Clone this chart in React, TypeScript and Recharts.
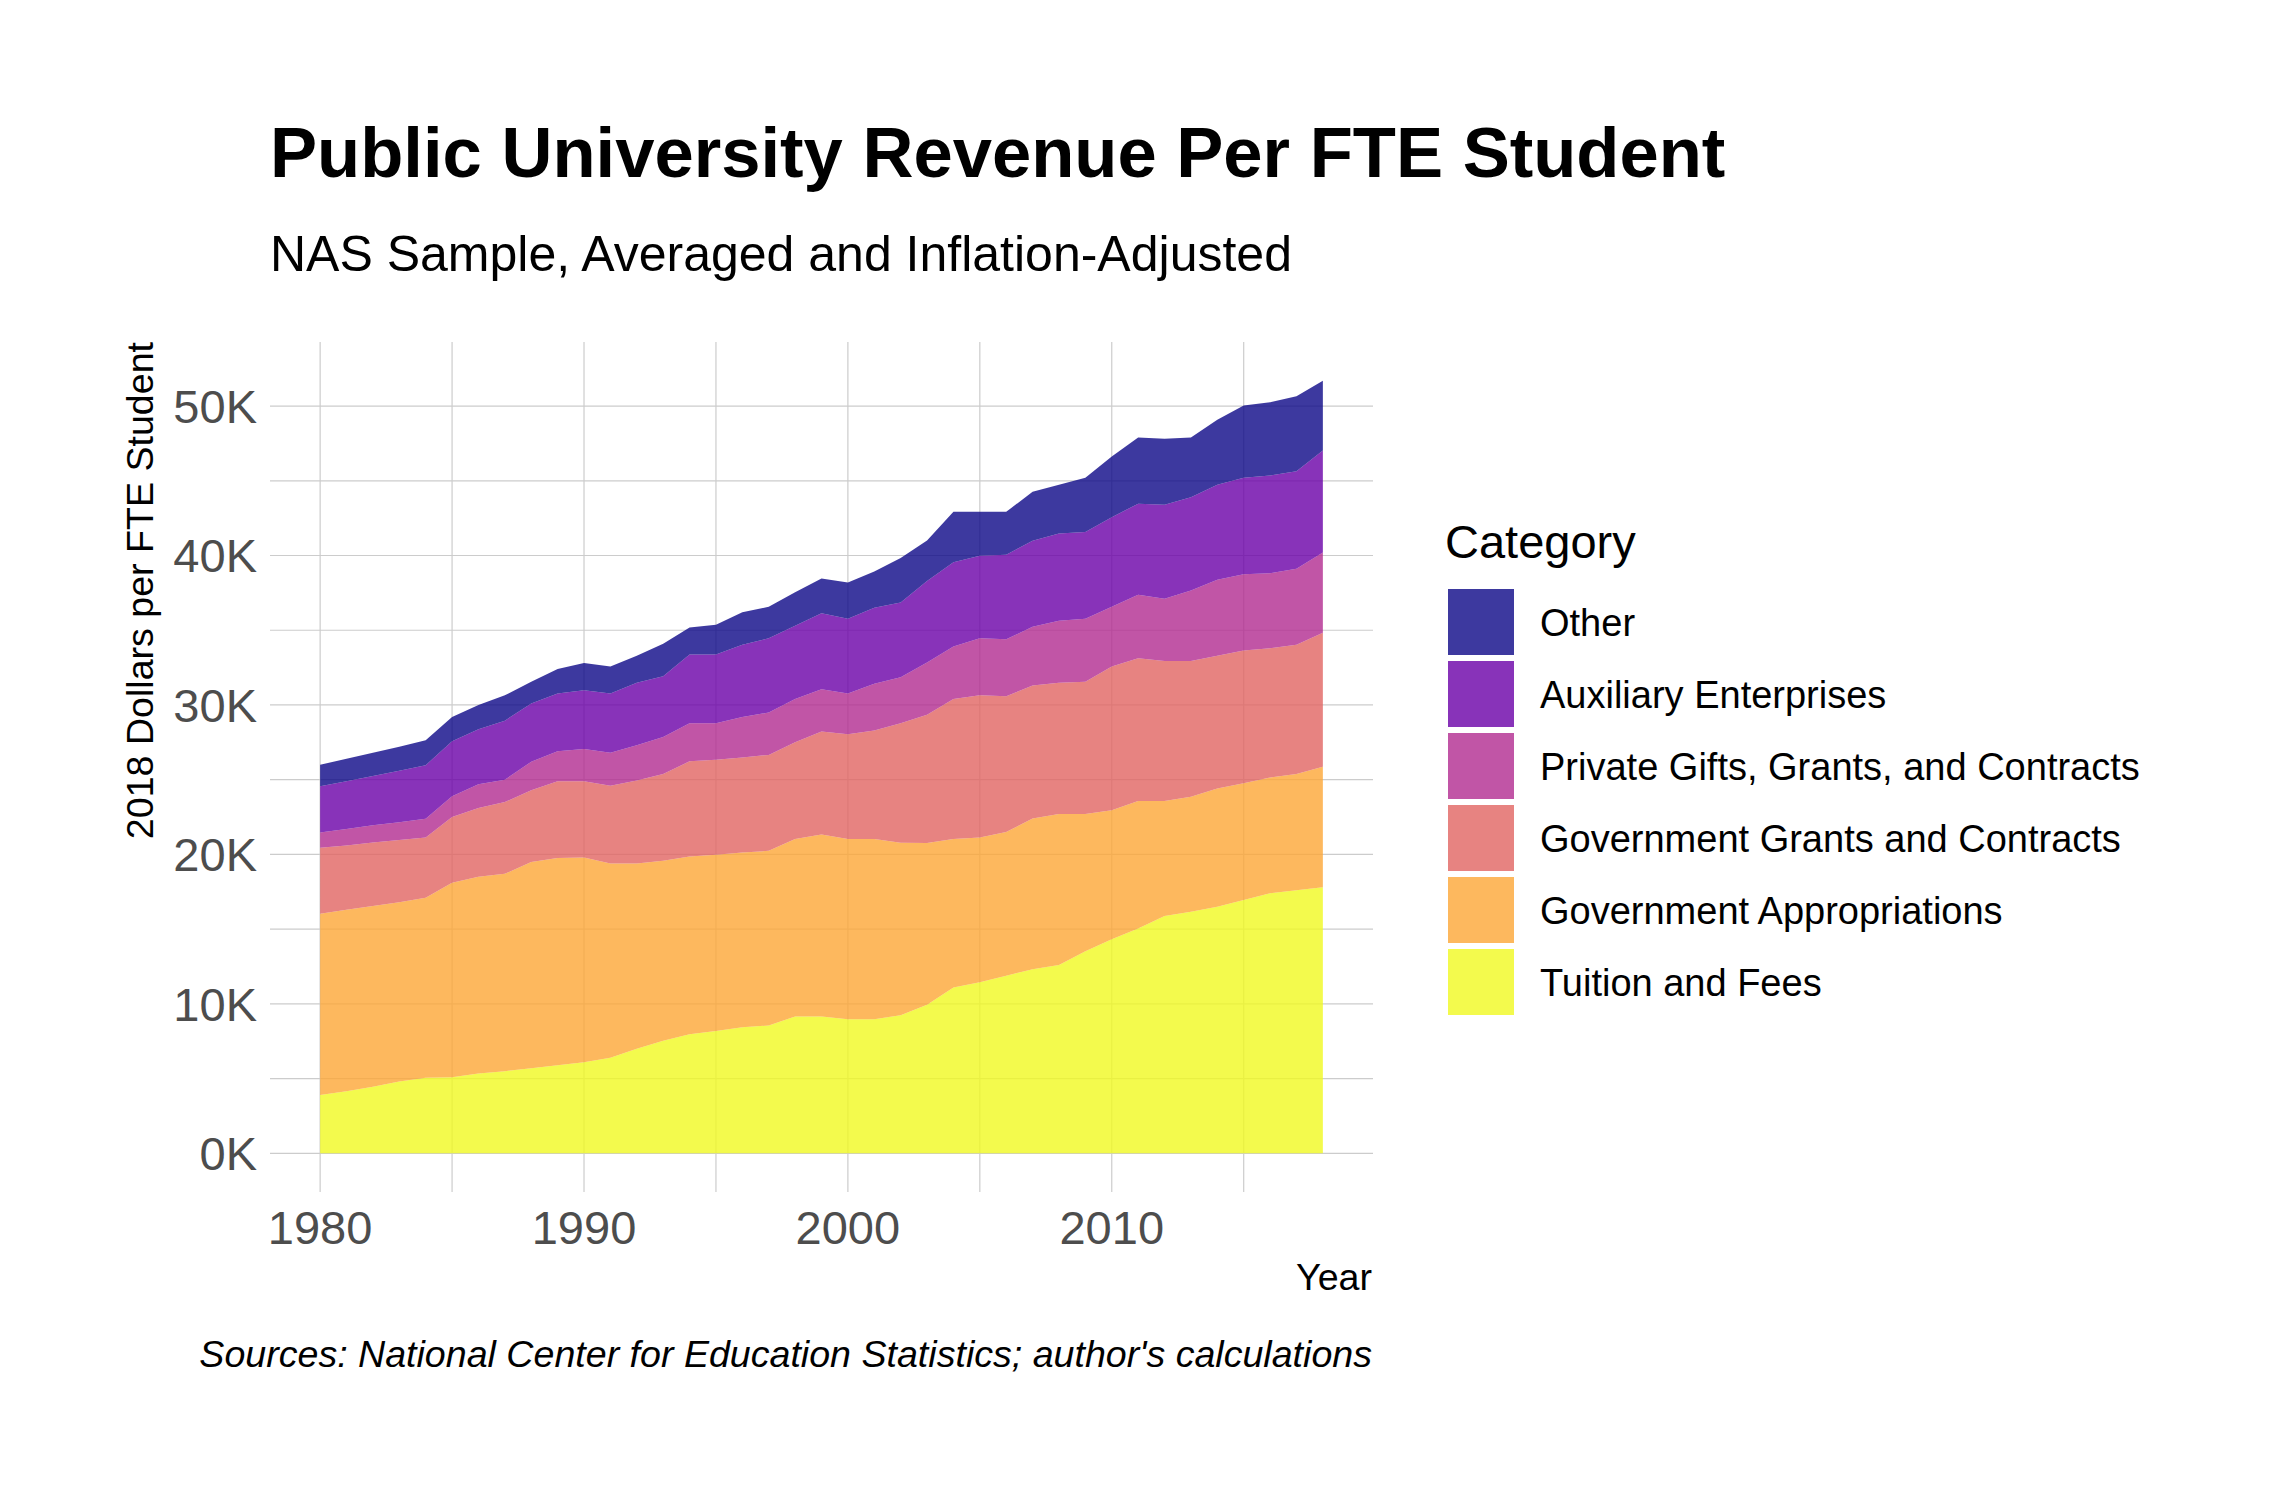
import React from 'react';
import { AreaChart, Area, XAxis, YAxis, CartesianGrid, Legend } from 'recharts';

// ---------- data (2018 dollars per FTE student) ----------
const years = [
  1980, 1981, 1982, 1983, 1984, 1985, 1986, 1987, 1988, 1989,
  1990, 1991, 1992, 1993, 1994, 1995, 1996, 1997, 1998, 1999,
  2000, 2001, 2002, 2003, 2004, 2005, 2006, 2007, 2008, 2009,
  2010, 2011, 2012, 2013, 2014, 2015, 2016, 2017, 2018,
];

const tuitionAndFees = [
  3900, 4150, 4450, 4810, 5060, 5100, 5350, 5500, 5700, 5900,
  6100, 6400, 7000, 7530, 7970, 8190, 8440, 8550, 9160, 9160,
  8980, 8980, 9240, 9950, 11090, 11450, 11890, 12320, 12610, 13520,
  14320, 15050, 15880, 16170, 16500, 16950, 17400, 17600, 17800,
];

const governmentAppropriations = [
  12130, 12150, 12100, 11990, 12040, 13000, 13150, 13200, 13800, 13860,
  13700, 13000, 12400, 12050, 11900, 11790, 11690, 11690, 11870, 12170,
  12050, 12050, 11540, 10810, 9940, 9690, 9610, 10090, 10090, 9180,
  8640, 8520, 7690, 7690, 7910, 7820, 7740, 7790, 8060,
];

const governmentGrants = [
  4420, 4300, 4250, 4170, 4040, 4400, 4600, 4800, 4800, 5140,
  5100, 5200, 5550, 5810, 6360, 6360, 6350, 6420, 6470, 6890,
  7010, 7270, 7990, 8590, 9370, 9510, 9080, 8890, 8790, 8860,
  9620, 9550, 9370, 9080, 8890, 8880, 8660, 8640, 8970,
];

const privateGifts = [
  1020, 1100, 1150, 1180, 1240, 1400, 1600, 1500, 1900, 2000,
  2160, 2200, 2350, 2470, 2540, 2430, 2720, 2830, 2900, 2830,
  2720, 3120, 3080, 3500, 3520, 3810, 3810, 3930, 4140, 4210,
  3990, 4250, 4170, 4720, 5080, 5100, 5020, 5080, 5370,
];

const auxiliaryEnterprises = [
  3090, 3200, 3300, 3450, 3590, 3670, 3670, 3950, 3900, 3860,
  3920, 3960, 4190, 4060, 4600, 4600, 4830, 4970, 4900, 5080,
  5010, 5080, 5010, 5450, 5630, 5520, 5660, 5760, 5840, 5810,
  5990, 6100, 6280, 6240, 6360, 6460, 6530, 6530, 6820,
];

const otherRevenue = [
  1440, 1500, 1550, 1600, 1670, 1630, 1630, 1700, 1450, 1640,
  1820, 1820, 1810, 2180, 1820, 2000, 2170, 2110, 2250, 2330,
  2430, 2430, 2980, 2700, 3370, 2940, 2870, 3280, 3270, 3630,
  4070, 4430, 4430, 4000, 4350, 4820, 4900, 5010, 4680,
];

const seriesKeys = ['tuition', 'appropriations', 'grants', 'privateGifts', 'auxiliary', 'other'];
const seriesNames = [
  'Tuition and Fees',
  'Government Appropriations',
  'Government Grants and Contracts',
  'Private Gifts, Grants, and Contracts',
  'Auxiliary Enterprises',
  'Other',
];
const seriesColors = ['#F0F921', '#FCA636', '#E16462', '#B12A90', '#6A00A8', '#0D0887'];
const seriesValues = [
  tuitionAndFees,
  governmentAppropriations,
  governmentGrants,
  privateGifts,
  auxiliaryEnterprises,
  otherRevenue,
];

const xTicks = [1980, 1990, 2000, 2010];
const xGridYears = [1980, 1985, 1990, 1995, 2000, 2005, 2010, 2015];
const yTicks = [0, 10000, 20000, 30000, 40000, 50000];
const yGridValues = [0, 5000, 10000, 15000, 20000, 25000, 30000, 35000, 40000, 45000, 50000];

const titleText = 'Public University Revenue Per FTE Student';
const subtitleText = 'NAS Sample, Averaged and Inflation-Adjusted';
const yTitleText = '2018 Dollars per FTE Student';
const xTitleText = 'Year';
const captionText = "Sources: National Center for Education Statistics; author's calculations";
const legendTitle = 'Category';

// ---------- derived table ----------
const data = years.map((year, i) => {
  const row: Record<string, number> = { year };
  seriesKeys.forEach((k, s) => {
    row[k] = seriesValues[s][i];
  });
  return row;
});

const totals = data.map((row) => seriesKeys.reduce((acc, k) => acc + row[k], 0));
const yMax = Math.max(...totals);
const yPad = yMax * 0.05;
const xRange = years[years.length - 1] - years[0];
const xPad = xRange * 0.05;

const FONT = '"Liberation Sans", Arial, Helvetica, sans-serif';
const W = 2295;
const H = 1500;
const PANEL_LEFT = 270;
const PANEL_RIGHT = 1373;
const PANEL_TOP = 342;
const PANEL_BOTTOM = 1192;
const Y_AXIS_W = 270;
const X_AXIS_H = 60;

const renderLegend = () => {
  const order = [...seriesNames.keys()].reverse();
  return (
    <svg width={840} height={540} style={{ display: 'block', overflow: 'visible' }}>
      <text x={5} y={57.5} fontSize={47} fill="#000000" fontFamily={FONT}>
        {legendTitle}
      </text>
      {order.map((s, i) => (
        <g key={seriesKeys[s]}>
          <rect x={8} y={89 + i * 72} width={66} height={66} fill={seriesColors[s]} fillOpacity={0.8} />
          <text x={100} y={89 + i * 72 + 33 + 13.5} fontSize={38} fill="#000000" fontFamily={FONT}>
            {seriesNames[s]}
          </text>
        </g>
      ))}
    </svg>
  );
};

export default function App() {
  return (
    <div
      style={{
        position: 'absolute',
        left: 0,
        top: 0,
        width: W,
        height: H,
        background: '#ffffff',
        fontFamily: FONT,
      }}
    >
      <AreaChart
        width={W}
        height={H}
        data={data}
        margin={{
          top: PANEL_TOP,
          right: W - PANEL_RIGHT,
          left: PANEL_LEFT - Y_AXIS_W,
          bottom: H - PANEL_BOTTOM - X_AXIS_H,
        }}
        style={{ fontFamily: FONT }}
      >
        <CartesianGrid
          stroke="#CCCCCC"
          strokeWidth={1.2}
          horizontalValues={yGridValues}
          verticalValues={xGridYears}
        />
        <XAxis
          type="number"
          dataKey="year"
          domain={[years[0] - xPad, years[years.length - 1] + xPad]}
          ticks={xTicks}
          axisLine={false}
          tickLine={false}
          tickSize={0}
          tickMargin={19}
          height={X_AXIS_H}
          interval={0}
          tick={{ fontSize: 47, fill: '#4D4D4D', fontFamily: FONT }}
        />
        <YAxis
          type="number"
          domain={[-yPad, yMax + yPad]}
          ticks={yTicks}
          tickFormatter={(v: number) => `${Math.round(v / 1000)}K`}
          axisLine={false}
          tickLine={false}
          tickSize={0}
          tickMargin={13}
          width={Y_AXIS_W}
          interval={0}
          tick={{ fontSize: 47, fill: '#4D4D4D', fontFamily: FONT }}
        />
        {seriesKeys.map((k, s) => (
          <Area
            key={k}
            type="linear"
            dataKey={k}
            name={seriesNames[s]}
            stackId="revenue"
            fill={seriesColors[s]}
            fillOpacity={0.8}
            stroke="none"
            dot={false}
            activeDot={false}
            isAnimationActive={false}
          />
        ))}
        <Legend
          layout="vertical"
          align="center"
          verticalAlign="middle"
          wrapperStyle={{ left: 1440, top: 500, width: 840, height: 540 }}
          content={renderLegend}
        />
      </AreaChart>
      <svg
        width={W}
        height={H}
        style={{ position: 'absolute', left: 0, top: 0, pointerEvents: 'none' }}
      >
        <text x={270} y={177} fontSize={70.6} fontWeight="bold" fill="#000000" fontFamily={FONT}>
          {titleText}
        </text>
        <text x={270} y={271} fontSize={50} fill="#000000" fontFamily={FONT}>
          {subtitleText}
        </text>
        <text
          transform={`translate(153, ${PANEL_TOP}) rotate(-90)`}
          textAnchor="end"
          fontSize={37.6}
          fill="#000000"
          fontFamily={FONT}
        >
          {yTitleText}
        </text>
        <text x={1372} y={1290} textAnchor="end" fontSize={37.6} fill="#000000" fontFamily={FONT}>
          {xTitleText}
        </text>
        <text
          x={1372}
          y={1367}
          textAnchor="end"
          fontSize={37.6}
          fontStyle="italic"
          fill="#000000"
          fontFamily={FONT}
        >
          {captionText}
        </text>
      </svg>
    </div>
  );
}
